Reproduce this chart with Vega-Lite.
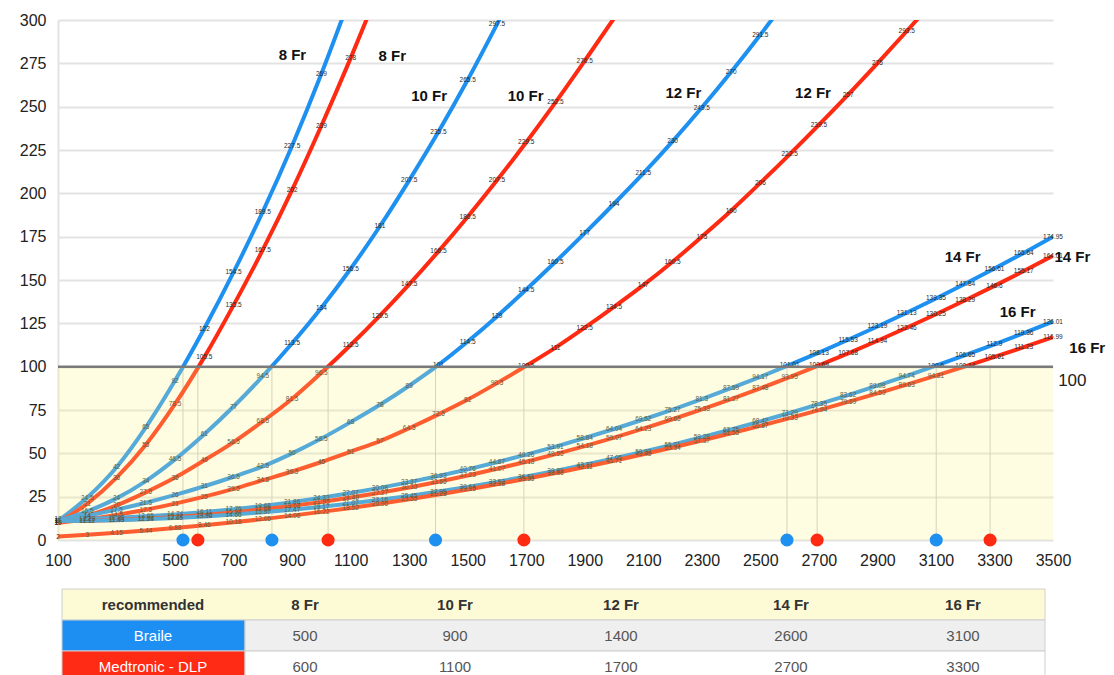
{
  "$schema": "https://vega.github.io/schema/vega-lite/v6.json",
  "padding": {"left": 19, "top": 12, "right": 0, "bottom": 0},
  "background": "white",
  "config": {"view": {"stroke": null}, "font": "Liberation Sans", "concat": {"spacing": 20}},
  "resolve": {"scale": {"color": "independent", "x": "independent", "y": "independent"}},
  "datasets": {
    "curves": [
      {"size":"8 Fr","maker":"Braile","flow":100,"dp":11},{"size":"8 Fr","maker":"Braile","flow":200,"dp":24.5},{"size":"8 Fr","maker":"Braile","flow":300,"dp":42},{"size":"8 Fr","maker":"Braile","flow":400,"dp":65},{"size":"8 Fr","maker":"Braile","flow":500,"dp":92},{"size":"8 Fr","maker":"Braile","flow":600,"dp":122},{"size":"8 Fr","maker":"Braile","flow":700,"dp":154.5},{"size":"8 Fr","maker":"Braile","flow":800,"dp":189.5},{"size":"8 Fr","maker":"Braile","flow":900,"dp":227.5},{"size":"8 Fr","maker":"Braile","flow":1000,"dp":269},{"size":"8 Fr","maker":"Braile","flow":1100,"dp":314},
      {"size":"8 Fr","maker":"Medtronic - DLP","flow":100,"dp":10},{"size":"8 Fr","maker":"Medtronic - DLP","flow":200,"dp":21},{"size":"8 Fr","maker":"Medtronic - DLP","flow":300,"dp":36},{"size":"8 Fr","maker":"Medtronic - DLP","flow":400,"dp":55},{"size":"8 Fr","maker":"Medtronic - DLP","flow":500,"dp":78.5},{"size":"8 Fr","maker":"Medtronic - DLP","flow":600,"dp":105.5},{"size":"8 Fr","maker":"Medtronic - DLP","flow":700,"dp":135.5},{"size":"8 Fr","maker":"Medtronic - DLP","flow":800,"dp":167.5},{"size":"8 Fr","maker":"Medtronic - DLP","flow":900,"dp":202},{"size":"8 Fr","maker":"Medtronic - DLP","flow":1000,"dp":239},{"size":"8 Fr","maker":"Medtronic - DLP","flow":1100,"dp":278},{"size":"8 Fr","maker":"Medtronic - DLP","flow":1200,"dp":319},
      {"size":"10 Fr","maker":"Braile","flow":100,"dp":11},{"size":"10 Fr","maker":"Braile","flow":200,"dp":16.5},{"size":"10 Fr","maker":"Braile","flow":300,"dp":24},{"size":"10 Fr","maker":"Braile","flow":400,"dp":34},{"size":"10 Fr","maker":"Braile","flow":500,"dp":46.5},{"size":"10 Fr","maker":"Braile","flow":600,"dp":61},{"size":"10 Fr","maker":"Braile","flow":700,"dp":77},{"size":"10 Fr","maker":"Braile","flow":800,"dp":94.5},{"size":"10 Fr","maker":"Braile","flow":900,"dp":113.5},{"size":"10 Fr","maker":"Braile","flow":1000,"dp":134},{"size":"10 Fr","maker":"Braile","flow":1100,"dp":156.5},{"size":"10 Fr","maker":"Braile","flow":1200,"dp":181},{"size":"10 Fr","maker":"Braile","flow":1300,"dp":207.5},{"size":"10 Fr","maker":"Braile","flow":1400,"dp":235.5},{"size":"10 Fr","maker":"Braile","flow":1500,"dp":265.5},{"size":"10 Fr","maker":"Braile","flow":1600,"dp":297.5},{"size":"10 Fr","maker":"Braile","flow":1700,"dp":330.5},
      {"size":"10 Fr","maker":"Medtronic - DLP","flow":100,"dp":10},{"size":"10 Fr","maker":"Medtronic - DLP","flow":200,"dp":14},{"size":"10 Fr","maker":"Medtronic - DLP","flow":300,"dp":20},{"size":"10 Fr","maker":"Medtronic - DLP","flow":400,"dp":27.5},{"size":"10 Fr","maker":"Medtronic - DLP","flow":500,"dp":36},{"size":"10 Fr","maker":"Medtronic - DLP","flow":600,"dp":46},{"size":"10 Fr","maker":"Medtronic - DLP","flow":700,"dp":56.5},{"size":"10 Fr","maker":"Medtronic - DLP","flow":800,"dp":68.5},{"size":"10 Fr","maker":"Medtronic - DLP","flow":900,"dp":81.5},{"size":"10 Fr","maker":"Medtronic - DLP","flow":1000,"dp":96.5},{"size":"10 Fr","maker":"Medtronic - DLP","flow":1100,"dp":112.5},{"size":"10 Fr","maker":"Medtronic - DLP","flow":1200,"dp":129.5},{"size":"10 Fr","maker":"Medtronic - DLP","flow":1300,"dp":147.5},{"size":"10 Fr","maker":"Medtronic - DLP","flow":1400,"dp":166.5},{"size":"10 Fr","maker":"Medtronic - DLP","flow":1500,"dp":186.5},{"size":"10 Fr","maker":"Medtronic - DLP","flow":1600,"dp":207.5},{"size":"10 Fr","maker":"Medtronic - DLP","flow":1700,"dp":229.5},{"size":"10 Fr","maker":"Medtronic - DLP","flow":1800,"dp":252.5},{"size":"10 Fr","maker":"Medtronic - DLP","flow":1900,"dp":276.5},{"size":"10 Fr","maker":"Medtronic - DLP","flow":2000,"dp":301},
      {"size":"12 Fr","maker":"Braile","flow":100,"dp":11},{"size":"12 Fr","maker":"Braile","flow":200,"dp":14},{"size":"12 Fr","maker":"Braile","flow":300,"dp":17.5},{"size":"12 Fr","maker":"Braile","flow":400,"dp":21.5},{"size":"12 Fr","maker":"Braile","flow":500,"dp":26},{"size":"12 Fr","maker":"Braile","flow":600,"dp":31},{"size":"12 Fr","maker":"Braile","flow":700,"dp":36.5},{"size":"12 Fr","maker":"Braile","flow":800,"dp":42.5},{"size":"12 Fr","maker":"Braile","flow":900,"dp":50},{"size":"12 Fr","maker":"Braile","flow":1000,"dp":58.5},{"size":"12 Fr","maker":"Braile","flow":1100,"dp":68},{"size":"12 Fr","maker":"Braile","flow":1200,"dp":78},{"size":"12 Fr","maker":"Braile","flow":1300,"dp":89},{"size":"12 Fr","maker":"Braile","flow":1400,"dp":101},{"size":"12 Fr","maker":"Braile","flow":1500,"dp":114.5},{"size":"12 Fr","maker":"Braile","flow":1600,"dp":129},{"size":"12 Fr","maker":"Braile","flow":1700,"dp":144.5},{"size":"12 Fr","maker":"Braile","flow":1800,"dp":160.5},{"size":"12 Fr","maker":"Braile","flow":1900,"dp":177},{"size":"12 Fr","maker":"Braile","flow":2000,"dp":194},{"size":"12 Fr","maker":"Braile","flow":2100,"dp":211.5},{"size":"12 Fr","maker":"Braile","flow":2200,"dp":230},{"size":"12 Fr","maker":"Braile","flow":2300,"dp":249.5},{"size":"12 Fr","maker":"Braile","flow":2400,"dp":270},{"size":"12 Fr","maker":"Braile","flow":2500,"dp":291.5},{"size":"12 Fr","maker":"Braile","flow":2600,"dp":314},
      {"size":"12 Fr","maker":"Medtronic - DLP","flow":100,"dp":10},{"size":"12 Fr","maker":"Medtronic - DLP","flow":200,"dp":12},{"size":"12 Fr","maker":"Medtronic - DLP","flow":300,"dp":14.5},{"size":"12 Fr","maker":"Medtronic - DLP","flow":400,"dp":17.5},{"size":"12 Fr","maker":"Medtronic - DLP","flow":500,"dp":21},{"size":"12 Fr","maker":"Medtronic - DLP","flow":600,"dp":25},{"size":"12 Fr","maker":"Medtronic - DLP","flow":700,"dp":29.5},{"size":"12 Fr","maker":"Medtronic - DLP","flow":800,"dp":34.5},{"size":"12 Fr","maker":"Medtronic - DLP","flow":900,"dp":39.5},{"size":"12 Fr","maker":"Medtronic - DLP","flow":1000,"dp":45},{"size":"12 Fr","maker":"Medtronic - DLP","flow":1100,"dp":51},{"size":"12 Fr","maker":"Medtronic - DLP","flow":1200,"dp":57},{"size":"12 Fr","maker":"Medtronic - DLP","flow":1300,"dp":64.5},{"size":"12 Fr","maker":"Medtronic - DLP","flow":1400,"dp":72.5},{"size":"12 Fr","maker":"Medtronic - DLP","flow":1500,"dp":81},{"size":"12 Fr","maker":"Medtronic - DLP","flow":1600,"dp":90.5},{"size":"12 Fr","maker":"Medtronic - DLP","flow":1700,"dp":100.5},{"size":"12 Fr","maker":"Medtronic - DLP","flow":1800,"dp":111},{"size":"12 Fr","maker":"Medtronic - DLP","flow":1900,"dp":122.5},{"size":"12 Fr","maker":"Medtronic - DLP","flow":2000,"dp":134.5},{"size":"12 Fr","maker":"Medtronic - DLP","flow":2100,"dp":147},{"size":"12 Fr","maker":"Medtronic - DLP","flow":2200,"dp":160.5},{"size":"12 Fr","maker":"Medtronic - DLP","flow":2300,"dp":175},{"size":"12 Fr","maker":"Medtronic - DLP","flow":2400,"dp":190},{"size":"12 Fr","maker":"Medtronic - DLP","flow":2500,"dp":206},{"size":"12 Fr","maker":"Medtronic - DLP","flow":2600,"dp":222.5},{"size":"12 Fr","maker":"Medtronic - DLP","flow":2700,"dp":239.5},{"size":"12 Fr","maker":"Medtronic - DLP","flow":2800,"dp":257},{"size":"12 Fr","maker":"Medtronic - DLP","flow":2900,"dp":275},{"size":"12 Fr","maker":"Medtronic - DLP","flow":3000,"dp":293.5},{"size":"12 Fr","maker":"Medtronic - DLP","flow":3100,"dp":312.5},
      {"size":"14 Fr","maker":"Braile","flow":100,"dp":12},{"size":"14 Fr","maker":"Braile","flow":200,"dp":12.28},{"size":"14 Fr","maker":"Braile","flow":300,"dp":12.82},{"size":"14 Fr","maker":"Braile","flow":400,"dp":13.65},{"size":"14 Fr","maker":"Braile","flow":500,"dp":14.74},{"size":"14 Fr","maker":"Braile","flow":600,"dp":16.11},{"size":"14 Fr","maker":"Braile","flow":700,"dp":17.76},{"size":"14 Fr","maker":"Braile","flow":800,"dp":19.68},{"size":"14 Fr","maker":"Braile","flow":900,"dp":21.86},{"size":"14 Fr","maker":"Braile","flow":1000,"dp":24.33},{"size":"14 Fr","maker":"Braile","flow":1100,"dp":27.07},{"size":"14 Fr","maker":"Braile","flow":1200,"dp":30.08},{"size":"14 Fr","maker":"Braile","flow":1300,"dp":33.37},{"size":"14 Fr","maker":"Braile","flow":1400,"dp":36.93},{"size":"14 Fr","maker":"Braile","flow":1500,"dp":40.76},{"size":"14 Fr","maker":"Braile","flow":1600,"dp":44.87},{"size":"14 Fr","maker":"Braile","flow":1700,"dp":49.26},{"size":"14 Fr","maker":"Braile","flow":1800,"dp":53.91},{"size":"14 Fr","maker":"Braile","flow":1900,"dp":58.84},{"size":"14 Fr","maker":"Braile","flow":2000,"dp":64.04},{"size":"14 Fr","maker":"Braile","flow":2100,"dp":69.52},{"size":"14 Fr","maker":"Braile","flow":2200,"dp":75.27},{"size":"14 Fr","maker":"Braile","flow":2300,"dp":81.3},{"size":"14 Fr","maker":"Braile","flow":2400,"dp":87.59},{"size":"14 Fr","maker":"Braile","flow":2500,"dp":94.17},{"size":"14 Fr","maker":"Braile","flow":2600,"dp":101.01},{"size":"14 Fr","maker":"Braile","flow":2700,"dp":108.13},{"size":"14 Fr","maker":"Braile","flow":2800,"dp":115.53},{"size":"14 Fr","maker":"Braile","flow":2900,"dp":123.19},{"size":"14 Fr","maker":"Braile","flow":3000,"dp":131.13},{"size":"14 Fr","maker":"Braile","flow":3100,"dp":139.35},{"size":"14 Fr","maker":"Braile","flow":3200,"dp":147.84},{"size":"14 Fr","maker":"Braile","flow":3300,"dp":156.61},{"size":"14 Fr","maker":"Braile","flow":3400,"dp":165.64},{"size":"14 Fr","maker":"Braile","flow":3500,"dp":174.95},
      {"size":"14 Fr","maker":"Medtronic - DLP","flow":100,"dp":11},{"size":"14 Fr","maker":"Medtronic - DLP","flow":200,"dp":11.17},{"size":"14 Fr","maker":"Medtronic - DLP","flow":300,"dp":11.59},{"size":"14 Fr","maker":"Medtronic - DLP","flow":400,"dp":12.29},{"size":"14 Fr","maker":"Medtronic - DLP","flow":500,"dp":13.24},{"size":"14 Fr","maker":"Medtronic - DLP","flow":600,"dp":14.46},{"size":"14 Fr","maker":"Medtronic - DLP","flow":700,"dp":15.94},{"size":"14 Fr","maker":"Medtronic - DLP","flow":800,"dp":17.68},{"size":"14 Fr","maker":"Medtronic - DLP","flow":900,"dp":19.68},{"size":"14 Fr","maker":"Medtronic - DLP","flow":1000,"dp":21.95},{"size":"14 Fr","maker":"Medtronic - DLP","flow":1100,"dp":24.48},{"size":"14 Fr","maker":"Medtronic - DLP","flow":1200,"dp":27.27},{"size":"14 Fr","maker":"Medtronic - DLP","flow":1300,"dp":30.33},{"size":"14 Fr","maker":"Medtronic - DLP","flow":1400,"dp":33.65},{"size":"14 Fr","maker":"Medtronic - DLP","flow":1500,"dp":37.23},{"size":"14 Fr","maker":"Medtronic - DLP","flow":1600,"dp":41.07},{"size":"14 Fr","maker":"Medtronic - DLP","flow":1700,"dp":45.18},{"size":"14 Fr","maker":"Medtronic - DLP","flow":1800,"dp":49.55},{"size":"14 Fr","maker":"Medtronic - DLP","flow":1900,"dp":54.18},{"size":"14 Fr","maker":"Medtronic - DLP","flow":2000,"dp":59.07},{"size":"14 Fr","maker":"Medtronic - DLP","flow":2100,"dp":64.23},{"size":"14 Fr","maker":"Medtronic - DLP","flow":2200,"dp":69.65},{"size":"14 Fr","maker":"Medtronic - DLP","flow":2300,"dp":75.33},{"size":"14 Fr","maker":"Medtronic - DLP","flow":2400,"dp":81.27},{"size":"14 Fr","maker":"Medtronic - DLP","flow":2500,"dp":87.48},{"size":"14 Fr","maker":"Medtronic - DLP","flow":2600,"dp":93.95},{"size":"14 Fr","maker":"Medtronic - DLP","flow":2700,"dp":100.69},{"size":"14 Fr","maker":"Medtronic - DLP","flow":2800,"dp":107.68},{"size":"14 Fr","maker":"Medtronic - DLP","flow":2900,"dp":114.94},{"size":"14 Fr","maker":"Medtronic - DLP","flow":3000,"dp":122.46},{"size":"14 Fr","maker":"Medtronic - DLP","flow":3100,"dp":130.25},{"size":"14 Fr","maker":"Medtronic - DLP","flow":3200,"dp":138.29},{"size":"14 Fr","maker":"Medtronic - DLP","flow":3300,"dp":146.6},{"size":"14 Fr","maker":"Medtronic - DLP","flow":3400,"dp":155.17},{"size":"14 Fr","maker":"Medtronic - DLP","flow":3500,"dp":164.01},
      {"size":"16 Fr","maker":"Braile","flow":100,"dp":11},{"size":"16 Fr","maker":"Braile","flow":200,"dp":11.12},{"size":"16 Fr","maker":"Braile","flow":300,"dp":11.43},{"size":"16 Fr","maker":"Braile","flow":400,"dp":11.94},{"size":"16 Fr","maker":"Braile","flow":500,"dp":12.65},{"size":"16 Fr","maker":"Braile","flow":600,"dp":13.56},{"size":"16 Fr","maker":"Braile","flow":700,"dp":14.66},{"size":"16 Fr","maker":"Braile","flow":800,"dp":15.97},{"size":"16 Fr","maker":"Braile","flow":900,"dp":17.47},{"size":"16 Fr","maker":"Braile","flow":1000,"dp":19.17},{"size":"16 Fr","maker":"Braile","flow":1100,"dp":21.07},{"size":"16 Fr","maker":"Braile","flow":1200,"dp":23.16},{"size":"16 Fr","maker":"Braile","flow":1300,"dp":25.45},{"size":"16 Fr","maker":"Braile","flow":1400,"dp":27.95},{"size":"16 Fr","maker":"Braile","flow":1500,"dp":30.64},{"size":"16 Fr","maker":"Braile","flow":1600,"dp":33.52},{"size":"16 Fr","maker":"Braile","flow":1700,"dp":36.61},{"size":"16 Fr","maker":"Braile","flow":1800,"dp":39.89},{"size":"16 Fr","maker":"Braile","flow":1900,"dp":43.37},{"size":"16 Fr","maker":"Braile","flow":2000,"dp":47.05},{"size":"16 Fr","maker":"Braile","flow":2100,"dp":50.93},{"size":"16 Fr","maker":"Braile","flow":2200,"dp":55.01},{"size":"16 Fr","maker":"Braile","flow":2300,"dp":59.28},{"size":"16 Fr","maker":"Braile","flow":2400,"dp":63.75},{"size":"16 Fr","maker":"Braile","flow":2500,"dp":68.42},{"size":"16 Fr","maker":"Braile","flow":2600,"dp":73.29},{"size":"16 Fr","maker":"Braile","flow":2700,"dp":78.35},{"size":"16 Fr","maker":"Braile","flow":2800,"dp":83.62},{"size":"16 Fr","maker":"Braile","flow":2900,"dp":89.08},{"size":"16 Fr","maker":"Braile","flow":3000,"dp":94.74},{"size":"16 Fr","maker":"Braile","flow":3100,"dp":100.6},{"size":"16 Fr","maker":"Braile","flow":3200,"dp":106.65},{"size":"16 Fr","maker":"Braile","flow":3300,"dp":112.9},{"size":"16 Fr","maker":"Braile","flow":3400,"dp":119.36},{"size":"16 Fr","maker":"Braile","flow":3500,"dp":126.01},
      {"size":"16 Fr","maker":"Medtronic - DLP","flow":100,"dp":2},{"size":"16 Fr","maker":"Medtronic - DLP","flow":200,"dp":3},{"size":"16 Fr","maker":"Medtronic - DLP","flow":300,"dp":4.15},{"size":"16 Fr","maker":"Medtronic - DLP","flow":400,"dp":5.44},{"size":"16 Fr","maker":"Medtronic - DLP","flow":500,"dp":6.88},{"size":"16 Fr","maker":"Medtronic - DLP","flow":600,"dp":8.46},{"size":"16 Fr","maker":"Medtronic - DLP","flow":700,"dp":10.18},{"size":"16 Fr","maker":"Medtronic - DLP","flow":800,"dp":12.05},{"size":"16 Fr","maker":"Medtronic - DLP","flow":900,"dp":14.06},{"size":"16 Fr","maker":"Medtronic - DLP","flow":1000,"dp":16.22},{"size":"16 Fr","maker":"Medtronic - DLP","flow":1100,"dp":18.52},{"size":"16 Fr","maker":"Medtronic - DLP","flow":1200,"dp":20.96},{"size":"16 Fr","maker":"Medtronic - DLP","flow":1300,"dp":23.55},{"size":"16 Fr","maker":"Medtronic - DLP","flow":1400,"dp":26.28},{"size":"16 Fr","maker":"Medtronic - DLP","flow":1500,"dp":29.16},{"size":"16 Fr","maker":"Medtronic - DLP","flow":1600,"dp":32.18},{"size":"16 Fr","maker":"Medtronic - DLP","flow":1700,"dp":35.35},{"size":"16 Fr","maker":"Medtronic - DLP","flow":1800,"dp":38.66},{"size":"16 Fr","maker":"Medtronic - DLP","flow":1900,"dp":42.11},{"size":"16 Fr","maker":"Medtronic - DLP","flow":2000,"dp":45.71},{"size":"16 Fr","maker":"Medtronic - DLP","flow":2100,"dp":49.45},{"size":"16 Fr","maker":"Medtronic - DLP","flow":2200,"dp":53.34},{"size":"16 Fr","maker":"Medtronic - DLP","flow":2300,"dp":57.37},{"size":"16 Fr","maker":"Medtronic - DLP","flow":2400,"dp":61.55},{"size":"16 Fr","maker":"Medtronic - DLP","flow":2500,"dp":65.87},{"size":"16 Fr","maker":"Medtronic - DLP","flow":2600,"dp":70.33},{"size":"16 Fr","maker":"Medtronic - DLP","flow":2700,"dp":74.94},{"size":"16 Fr","maker":"Medtronic - DLP","flow":2800,"dp":79.69},{"size":"16 Fr","maker":"Medtronic - DLP","flow":2900,"dp":84.59},{"size":"16 Fr","maker":"Medtronic - DLP","flow":3000,"dp":89.63},{"size":"16 Fr","maker":"Medtronic - DLP","flow":3100,"dp":94.81},{"size":"16 Fr","maker":"Medtronic - DLP","flow":3200,"dp":100.14},{"size":"16 Fr","maker":"Medtronic - DLP","flow":3300,"dp":105.61},{"size":"16 Fr","maker":"Medtronic - DLP","flow":3400,"dp":111.23},{"size":"16 Fr","maker":"Medtronic - DLP","flow":3500,"dp":116.99}
    ],
    "crossings": [
      {"size":"8 Fr","maker":"Braile","flow":527,"lo":0,"hi":100},{"size":"8 Fr","maker":"Medtronic - DLP","flow":578,"lo":0,"hi":100},
      {"size":"10 Fr","maker":"Braile","flow":831,"lo":0,"hi":100},{"size":"10 Fr","maker":"Medtronic - DLP","flow":1023,"lo":0,"hi":100},
      {"size":"12 Fr","maker":"Braile","flow":1390,"lo":0,"hi":100},{"size":"12 Fr","maker":"Medtronic - DLP","flow":1692,"lo":0,"hi":100},
      {"size":"14 Fr","maker":"Braile","flow":2591,"lo":0,"hi":100},{"size":"14 Fr","maker":"Medtronic - DLP","flow":2694,"lo":0,"hi":100},
      {"size":"16 Fr","maker":"Braile","flow":3101,"lo":0,"hi":100},{"size":"16 Fr","maker":"Medtronic - DLP","flow":3285,"lo":0,"hi":100}
    ],
    "zone": [{"from":100,"to":3500,"lo":0,"hi":100}],
    "curvelabels": [
      {"label":"8 Fr","flow":901,"dp":280},{"label":"8 Fr","flow":1242,"dp":279},
      {"label":"10 Fr","flow":1368,"dp":256},{"label":"10 Fr","flow":1698,"dp":256},
      {"label":"12 Fr","flow":2237,"dp":258},{"label":"12 Fr","flow":2680,"dp":258},
      {"label":"14 Fr","flow":3191,"dp":163},{"label":"14 Fr","flow":3566,"dp":163},
      {"label":"16 Fr","flow":3379,"dp":131.5},{"label":"16 Fr","flow":3617,"dp":111}
    ],
    "tablebg": [
      {"row":"h","x0":0,"x1":983,"kind":"header"},
      {"row":"b","x0":0,"x1":183,"kind":"braile"},
      {"row":"b","x0":183,"x1":983,"kind":"gray"},
      {"row":"m","x0":0,"x1":183,"kind":"med"},
      {"row":"m","x0":183,"x1":983,"kind":"white"}
    ],
    "tabletext": [
      {"row":"h","xc":91,"t":"recommended","kind":"hdr"},
      {"row":"h","xc":243,"t":"8 Fr","kind":"hdr"},
      {"row":"h","xc":393,"t":"10 Fr","kind":"hdr"},
      {"row":"h","xc":559,"t":"12 Fr","kind":"hdr"},
      {"row":"h","xc":729,"t":"14 Fr","kind":"hdr"},
      {"row":"h","xc":901,"t":"16 Fr","kind":"hdr"},
      {"row":"b","xc":91,"t":"Braile","kind":"lab"},
      {"row":"b","xc":243,"t":"500","kind":"val"},
      {"row":"b","xc":393,"t":"900","kind":"val"},
      {"row":"b","xc":559,"t":"1400","kind":"val"},
      {"row":"b","xc":729,"t":"2600","kind":"val"},
      {"row":"b","xc":901,"t":"3100","kind":"val"},
      {"row":"m","xc":91,"t":"Medtronic - DLP","kind":"lab"},
      {"row":"m","xc":243,"t":"600","kind":"val"},
      {"row":"m","xc":393,"t":"1100","kind":"val"},
      {"row":"m","xc":559,"t":"1700","kind":"val"},
      {"row":"m","xc":729,"t":"2700","kind":"val"},
      {"row":"m","xc":901,"t":"3300","kind":"val"}
    ]
  },
  "vconcat": [
    {
      "width": 995,
      "height": 520,
      "layer": [
        {
          "data": {"name": "crossings"},
          "mark": {"type": "rule", "color": "#c9c9c9", "strokeWidth": 1},
          "encoding": {
            "x": {"field": "flow", "type": "quantitative", "scale": {"domain": [100, 3500], "nice": false, "zero": false},
                  "axis": {"values": [100,300,500,700,900,1100,1300,1500,1700,1900,2100,2300,2500,2700,2900,3100,3300,3500], "format": "d", "grid": false, "ticks": false, "domain": false, "labelFontSize": 16, "labelColor": "#222222", "labelPadding": 12, "title": null, "labelFlush": false}},
            "y": {"field": "lo", "type": "quantitative", "scale": {"domain": [0, 300], "nice": false},
                  "axis": {"values": [0,25,50,75,100,125,150,175,200,225,250,275,300], "grid": true, "gridColor": "#e3e3e3", "gridWidth": 2, "ticks": false, "domain": true, "domainColor": "#e3e3e3", "domainWidth": 2, "labelFontSize": 16, "labelColor": "#222222", "labelPadding": 12, "title": null}},
            "y2": {"field": "hi"}
          }
        },
        {
          "data": {"name": "curves"},
          "mark": {"type": "line", "interpolate": "monotone", "strokeWidth": 4, "clip": true},
          "encoding": {
            "x": {"field": "flow", "type": "quantitative"},
            "y": {"field": "dp", "type": "quantitative"},
            "color": {"field": "maker", "type": "nominal", "scale": {"domain": ["Braile", "Medtronic - DLP"], "range": ["#1e90f0", "#ff2a12"]}, "legend": null},
            "detail": {"field": "size"},
            "order": {"field": "flow"}
          }
        },
        {
          "data": {"name": "curves"},
          "transform": [{"filter": "datum.dp <= 300"}],
          "mark": {"type": "text", "fontSize": 6.5, "color": "#2a2a2a", "align": "center", "baseline": "middle"},
          "encoding": {
            "x": {"field": "flow", "type": "quantitative"},
            "y": {"field": "dp", "type": "quantitative"},
            "text": {"field": "dp", "type": "quantitative", "format": ".2~f"}
          }
        },
        {
          "data": {"name": "zone"},
          "mark": {"type": "rect", "color": "#fbf68a", "opacity": 0.25},
          "encoding": {
            "x": {"field": "from", "type": "quantitative"}, "x2": {"field": "to"},
            "y": {"field": "lo", "type": "quantitative"}, "y2": {"field": "hi"}
          }
        },
        {
          "data": {"name": "zone"},
          "mark": {"type": "rule", "color": "#7a7a7a", "strokeWidth": 2.5},
          "encoding": {
            "x": {"field": "from", "type": "quantitative"}, "x2": {"field": "to"},
            "y": {"field": "hi", "type": "quantitative"}
          }
        },
        {
          "data": {"name": "crossings"},
          "mark": {"type": "circle", "size": 170, "opacity": 1},
          "encoding": {
            "x": {"field": "flow", "type": "quantitative"},
            "y": {"field": "lo", "type": "quantitative"},
            "color": {"field": "maker", "type": "nominal", "legend": null}
          }
        },
        {
          "data": {"name": "curvelabels"},
          "mark": {"type": "text", "fontSize": 15, "fontWeight": "bold", "color": "#111111", "align": "center", "baseline": "middle"},
          "encoding": {
            "x": {"field": "flow", "type": "quantitative"},
            "y": {"field": "dp", "type": "quantitative"},
            "text": {"field": "label"}
          }
        },
        {
          "data": {"values": [{"label": "100", "flow": 3566, "dp": 92}]},
          "mark": {"type": "text", "fontSize": 17, "color": "#222222", "align": "center", "baseline": "middle"},
          "encoding": {
            "x": {"field": "flow", "type": "quantitative"},
            "y": {"field": "dp", "type": "quantitative"},
            "text": {"field": "label"}
          }
        }
      ]
    },
    {
      "width": 987,
      "height": 93,
      "encoding": {
        "y": {"field": "row", "type": "nominal", "sort": ["h", "b", "m"], "scale": {"domain": ["h", "b", "m"], "paddingInner": 0, "paddingOuter": 0}, "axis": null}
      },
      "layer": [
        {
          "data": {"name": "tablebg"},
          "mark": {"type": "rect", "stroke": "#cfcfcf", "strokeWidth": 1},
          "encoding": {
            "x": {"field": "x0", "type": "quantitative", "scale": {"domain": [-4, 983], "nice": false, "zero": false}, "axis": null},
            "x2": {"field": "x1"},
            "color": {"field": "kind", "type": "nominal", "legend": null,
                      "scale": {"domain": ["header", "braile", "gray", "med", "white", "hdr", "val", "lab"],
                                "range": ["#fdfbd5", "#1d8ff2", "#efefef", "#ff2b14", "#ffffff", "#333333", "#555555", "#ffffff"]}}
          }
        },
        {
          "data": {"name": "tabletext"},
          "transform": [{"filter": "datum.row === 'h'"}],
          "mark": {"type": "text", "fontSize": 15, "fontWeight": "bold", "align": "center", "baseline": "middle"},
          "encoding": {
            "x": {"field": "xc", "type": "quantitative"},
            "text": {"field": "t"},
            "color": {"field": "kind", "type": "nominal", "legend": null}
          }
        },
        {
          "data": {"name": "tabletext"},
          "transform": [{"filter": "datum.row !== 'h'"}],
          "mark": {"type": "text", "fontSize": 15, "align": "center", "baseline": "middle"},
          "encoding": {
            "x": {"field": "xc", "type": "quantitative"},
            "text": {"field": "t"},
            "color": {"field": "kind", "type": "nominal", "legend": null}
          }
        }
      ]
    }
  ]
}
